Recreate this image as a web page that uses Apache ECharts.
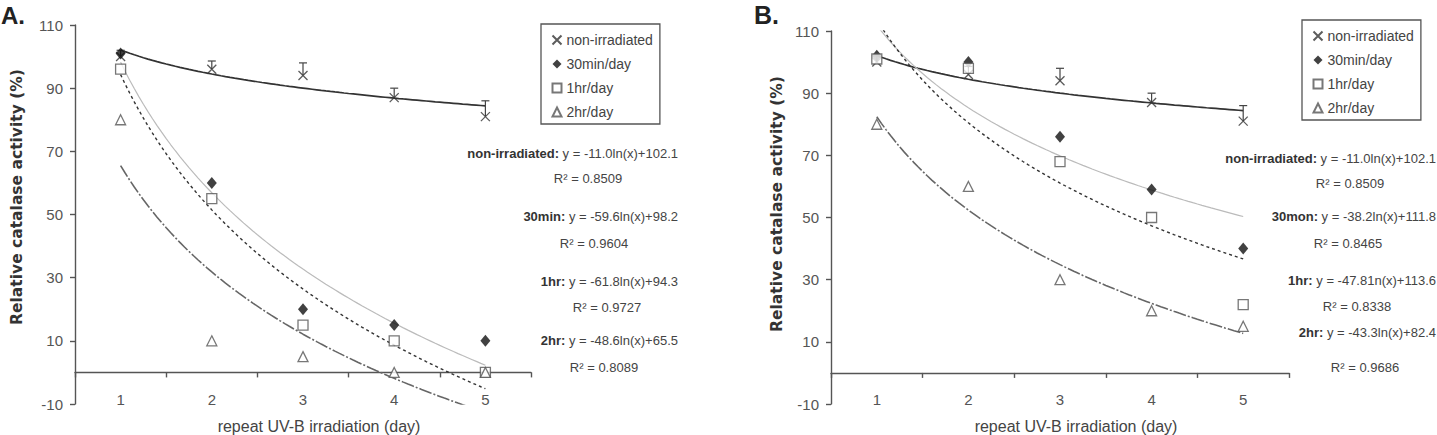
<!DOCTYPE html>
<html>
<head>
<meta charset="utf-8">
<script src="https://cdn.jsdelivr.net/npm/echarts@6/dist/echarts.min.js"></script>
<style>
html, body { margin: 0; padding: 0; background: #fff; }
#chart1 { width: 1437px; height: 435px; }
</style>
</head>
<body>
<div id="chart1"></div>
<script>
var days = ['1', '2', '3', '4', '5'];
var yTicks = [-10, 10, 30, 50, 70, 90, 110];
var seriesNames = ['non-irradiated', '30min/day', '1hr/day', '2hr/day'];

// panel A
var nonIrrA = [100, 96, 94, 87, 81];
var nonIrrErrA = [2, 2.6, 4, 3, 5];
var min30A = [101, 60, 20, 15, 10];
var hr1A = [96, 55, 15, 10, 0];
var hr2A = [80, 10, 5, 0, 0];
// trendlines y = a*ln(x) + b, [a, b]
var fitA = [[-11.0, 102.1], [-59.6, 98.2], [-61.8, 94.3], [-48.6, 65.5]];
var eqNameA = ['non-irradiated:', '30min:', '1hr:', '2hr:'];
var eqA = [' y = -11.0ln(x)+102.1', ' y = -59.6ln(x)+98.2', ' y = -61.8ln(x)+94.3', ' y = -48.6ln(x)+65.5'];
var r2A = ['R² = 0.8509', 'R² = 0.9604', 'R² = 0.9727', 'R² = 0.8089'];

// panel B
var nonIrrB = [100, 96, 94, 87, 81];
var nonIrrErrB = [2, 2.6, 4, 3, 5];
var min30B = [102, 100, 76, 59, 40];
var hr1B = [101, 98, 68, 50, 22];
var hr2B = [80, 60, 30, 20, 15];
var fitB = [[-11.0, 102.1], [-38.2, 111.8], [-47.8, 113.6], [-43.3, 82.4]];
var eqNameB = ['non-irradiated:', '30mon:', '1hr:', '2hr:'];
var eqB = [' y = -11.0ln(x)+102.1', ' y = -38.2ln(x)+111.8', ' y = -47.81n(x)+113.6', ' y = -43.3ln(x)+82.4'];
var r2B = ['R² = 0.8509', 'R² = 0.8465', 'R² = 0.8338', 'R² = 0.9686'];

var FONT = 'Liberation Sans, Arial, sans-serif';
var AX = '#555';

var chartDom = document.getElementById('chart1');
var myChart = echarts.init(chartDom, null, { renderer: 'svg' });

function curve(c) {
  var pts = [];
  for (var i = 0; i <= 80; i++) {
    var x = 1 + i * 0.05;
    pts.push([x, c[0] * Math.log(x) + c[1]]);
  }
  return pts;
}

function errorBar(params, api) {
  var x = api.value(0);
  var base = api.coord([x, api.value(1)]);
  var top = api.coord([x, api.value(1) + api.value(2)]);
  var st = { stroke: '#444', lineWidth: 1.2 };
  return {
    type: 'group',
    children: [
      { type: 'line', shape: { x1: base[0], y1: base[1], x2: top[0], y2: top[1] }, style: st },
      { type: 'line', shape: { x1: top[0] - 4, y1: top[1], x2: top[0] + 4, y2: top[1] }, style: st }
    ]
  };
}

var markStyles = [
  { symbol: 'path://M0,0L10,10M10,0L0,10', symbolSize: 9, itemStyle: { color: 'none', borderColor: '#333', borderWidth: 1.3 } },
  { symbol: 'diamond', symbolSize: [10, 12], itemStyle: { color: '#111' } },
  { symbol: 'rect', symbolSize: 10, itemStyle: { color: '#fff', borderColor: '#555', borderWidth: 1.3 } },
  { symbol: 'triangle', symbolSize: 10, itemStyle: { color: '#fff', borderColor: '#555', borderWidth: 1.3 } }
];
var fitStyles = [
  { color: '#333', width: 1.7, type: 'solid' },
  { color: '#bbb', width: 1.2, type: 'solid' },
  { color: '#333', width: 1.4, type: [3, 3] },
  { color: '#666', width: 1.6, type: [13, 2, 2, 2] }
];

function panel(catAxis, valAxis, yAxis, values, errs, fits) {
  var out = [];
  fits.forEach(function (c, i) {
    out.push({
      type: 'line', xAxisIndex: valAxis, yAxisIndex: yAxis, data: curve(c),
      showSymbol: false, symbol: 'none', silent: true, z: 1,
      lineStyle: fitStyles[i]
    });
  });
  out.push({
    type: 'custom', xAxisIndex: catAxis, yAxisIndex: yAxis, renderItem: errorBar,
    encode: { x: 0, y: 1 }, silent: true, z: 2,
    data: values[0].map(function (v, i) { return [i, v, errs[i]]; })
  });
  values.forEach(function (vals, i) {
    out.push(Object.assign({
      type: 'scatter', name: seriesNames[i], xAxisIndex: catAxis, yAxisIndex: yAxis,
      data: vals, z: 3 + i, silent: true
    }, markStyles[i]));
  });
  return out;
}

function catAxis(grid) {
  return {
    type: 'category', gridIndex: grid, data: days, boundaryGap: true,
    axisLine: { show: true, onZero: true, lineStyle: { color: AX, width: 1.4 } },
    axisTick: { show: true, inside: false, length: 5, interval: 0, alignWithLabel: false, lineStyle: { color: AX, width: 1.4 } },
    axisLabel: { margin: -12, color: '#555', fontSize: 15, fontFamily: FONT },
    splitLine: { show: false }
  };
}
function valAxis(grid) {
  return { type: 'value', gridIndex: grid, min: 0.5, max: 5.5, show: false };
}
function yAxisFor(grid) {
  return {
    type: 'value', gridIndex: grid,
    min: yTicks[0], max: yTicks[yTicks.length - 1], interval: yTicks[1] - yTicks[0],
    splitLine: { show: false },
    axisLine: { show: true, onZero: false, lineStyle: { color: AX, width: 1.4 } },
    axisTick: { show: true, inside: false, length: 5, lineStyle: { color: AX, width: 1.4 } },
    axisLabel: { margin: 12, color: '#555', fontSize: 15, fontFamily: FONT }
  };
}
function legendAt(left, top) {
  return {
    orient: 'vertical', left: left, top: top, data: seriesNames, selectedMode: false,
    padding: [9, 7, 5, 9], itemGap: 10, itemWidth: 9, itemHeight: 9,
    borderColor: '#555', borderWidth: 1.3,
    textStyle: { fontSize: 14, color: '#444', fontFamily: FONT, lineHeight: 14 }
  };
}

function textEl(x, y, text, opts) {
  return {
    type: 'text', x: x, y: y, silent: true,
    rotation: opts.rotation || 0,
    style: {
      text: text, fill: opts.color || '#444', font: opts.font,
      align: opts.align || 'left', verticalAlign: 'middle', rich: opts.rich
    }
  };
}

var graphics = [];
graphics.push(textEl(1, 15, 'A.', { font: 'bold 24px ' + FONT, color: '#222' }));
graphics.push(textEl(754, 15, 'B.', { font: 'bold 25px ' + FONT, color: '#222' }));
graphics.push(textEl(17, 197, 'Relative catalase activity (%)', { font: 'bold 15.5px DejaVu Sans', align: 'center', rotation: Math.PI / 2, color: '#333' }));
graphics.push(textEl(777, 204, 'Relative catalase activity (%)', { font: 'bold 15.5px DejaVu Sans', align: 'center', rotation: Math.PI / 2, color: '#333' }));
graphics.push(textEl(319, 426, 'repeat UV-B irradiation (day)', { font: '16px ' + FONT, align: 'center' }));
graphics.push(textEl(1076, 426, 'repeat UV-B irradiation (day)', { font: '16px ' + FONT, align: 'center' }));

var eqLayout = [
  { right: 678, eqY: [153, 216, 281, 340], r2X: [588, 594, 607, 604], r2Y: [178, 243, 307, 367], names: eqNameA, eqs: eqA, r2: r2A },
  { right: 1436, eqY: [158, 216, 280, 332], r2X: [1350, 1348, 1357, 1365], r2Y: [183, 243, 306, 367], names: eqNameB, eqs: eqB, r2: r2B }
];
eqLayout.forEach(function (p) {
  p.names.forEach(function (n, i) {
    graphics.push(textEl(p.right, p.eqY[i], '{b|' + n + '}' + p.eqs[i], {
      font: '13px ' + FONT, align: 'right',
      rich: { b: { fontWeight: 'bold', fontSize: 13, fontFamily: FONT, fill: '#333' } }
    }));
    graphics.push(textEl(p.r2X[i], p.r2Y[i], p.r2[i], { font: '13px ' + FONT, align: 'center' }));
  });
});

var option = {
  animation: false,
  backgroundColor: '#fff',
  grid: [
    { left: 75, top: 25, width: 456, height: 379 },
    { left: 831, top: 31, width: 458, height: 373 }
  ],
  xAxis: [catAxis(0), valAxis(0), catAxis(1), valAxis(1)],
  yAxis: [yAxisFor(0), yAxisFor(1)],
  legend: [legendAt(541, 24), legendAt(1302, 20)],
  graphic: graphics,
  series: panel(0, 1, 0, [nonIrrA, min30A, hr1A, hr2A], nonIrrErrA, fitA)
    .concat(panel(2, 3, 1, [nonIrrB, min30B, hr1B, hr2B], nonIrrErrB, fitB))
};

option && myChart.setOption(option);
window.onresize = function () {
  myChart.resize();
};
</script>
</body>
</html>
